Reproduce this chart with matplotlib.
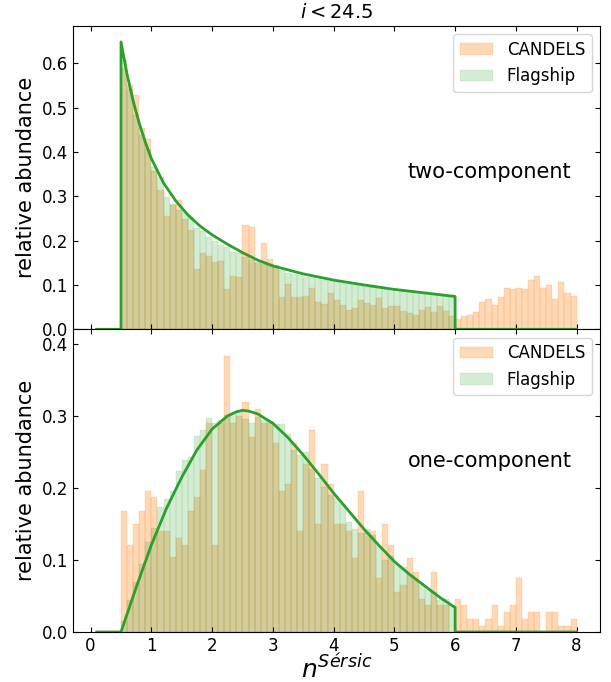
import numpy as np
import matplotlib
matplotlib.use("Agg")
import matplotlib.pyplot as plt

# ---------------- data ----------------
# CANDELS histogram heights, bins of width 0.1 from 0.5 to 8.0
cand_two = [0.590, 0.551, 0.528, 0.454, 0.429, 0.358, 0.314, 0.256, 0.280, 0.292,
            0.248, 0.224, 0.136, 0.172, 0.166, 0.152, 0.155, 0.091, 0.120, 0.117,
            0.235, 0.230, 0.150, 0.194, 0.158, 0.145, 0.072, 0.102, 0.072, 0.072,
            0.075, 0.093, 0.061, 0.057, 0.082, 0.066, 0.054, 0.043, 0.048, 0.066,
            0.060, 0.055, 0.070, 0.048, 0.052, 0.052, 0.041, 0.037, 0.032, 0.043,
            0.050, 0.038, 0.052, 0.041, 0.030, 0.023, 0.030, 0.032, 0.039, 0.061,
            0.068, 0.055, 0.073, 0.093, 0.091, 0.093, 0.091, 0.111, 0.120, 0.093,
            0.100, 0.068, 0.107, 0.082, 0.075]
# Flagship histogram heights, bins of width 0.1 from 0.5 to 6.0
flag_two = [0.607, 0.541, 0.483, 0.438, 0.407, 0.367, 0.344, 0.299, 0.283, 0.270,
            0.265, 0.253, 0.228, 0.222, 0.209, 0.199, 0.189, 0.186, 0.175, 0.172,
            0.164, 0.156, 0.152, 0.147, 0.145, 0.141, 0.134, 0.128, 0.125, 0.123,
            0.119, 0.115, 0.113, 0.111, 0.109, 0.108, 0.105, 0.102, 0.100, 0.098,
            0.096, 0.095, 0.093, 0.092, 0.090, 0.089, 0.087, 0.086, 0.085, 0.083,
            0.082, 0.080, 0.078, 0.077, 0.072]
cand_one = [0.168, 0.121, 0.150, 0.168, 0.196, 0.188, 0.140, 0.140, 0.104, 0.131,
            0.121, 0.168, 0.188, 0.225, 0.290, 0.121, 0.291, 0.384, 0.291, 0.300,
            0.319, 0.271, 0.310, 0.291, 0.290, 0.263, 0.196, 0.206, 0.263, 0.140,
            0.233, 0.281, 0.150, 0.233, 0.206, 0.150, 0.150, 0.140, 0.103, 0.196,
            0.137, 0.140, 0.075, 0.150, 0.121, 0.056, 0.065, 0.103, 0.084, 0.046,
            0.038, 0.084, 0.038, 0.038, 0.000, 0.046, 0.038, 0.018, 0.018, 0.008,
            0.018, 0.038, 0.008, 0.028, 0.038, 0.075, 0.018, 0.028, 0.028, 0.000,
            0.028, 0.028, 0.008, 0.008, 0.018]
flag_one = [0.015, 0.045, 0.070, 0.095, 0.125, 0.144, 0.174, 0.185, 0.196, 0.224,
            0.239, 0.243, 0.272, 0.280, 0.297, 0.290, 0.295, 0.301, 0.304, 0.306,
            0.296, 0.291, 0.299, 0.295, 0.293, 0.289, 0.289, 0.275, 0.253, 0.246,
            0.250, 0.226, 0.214, 0.202, 0.191, 0.186, 0.178, 0.153, 0.143, 0.137,
            0.143, 0.135, 0.119, 0.100, 0.106, 0.095, 0.091, 0.080, 0.072, 0.066,
            0.058, 0.056, 0.044, 0.046, 0.038]

# model curves (Flagship)
curve_two_x = [0.1, 0.5, 0.5, 0.6, 0.7, 0.8, 0.9, 1.0, 1.2, 1.4, 1.6, 1.8, 2.0, 2.25,
               2.5, 2.75, 3.0, 3.5, 4.0, 4.5, 5.0, 5.5, 6.0, 6.0, 8.0]
curve_two_y = [0.0, 0.0, 0.648, 0.575, 0.515, 0.465, 0.422, 0.385, 0.330, 0.290, 0.258,
               0.233, 0.213, 0.192, 0.173, 0.156, 0.143, 0.125, 0.111, 0.100, 0.090,
               0.082, 0.074, 0.0, 0.0]
curve_one_x = [0.1, 0.5, 0.75, 1.0, 1.25, 1.5, 1.75, 2.0, 2.25, 2.4, 2.5, 2.6, 2.75, 3.0,
               3.25, 3.5, 3.75, 4.0, 4.25, 4.5, 4.75, 5.0, 5.25, 5.5, 5.75, 6.0, 6.0, 8.0]
curve_one_y = [0.0, 0.0, 0.062, 0.121, 0.172, 0.215, 0.253, 0.282, 0.300, 0.306, 0.308,
               0.307, 0.303, 0.290, 0.270, 0.246, 0.220, 0.193, 0.168, 0.143, 0.120,
               0.098, 0.080, 0.064, 0.048, 0.034, 0.0, 0.0]

labels = ["CANDELS", "Flagship"]
panel_names = ["two-component", "one-component"]
title = r"$i < 24.5$"
xlabel = r"$n^{Sérsic}$"
ylabel = "relative abundance"
xticks = [0, 1, 2, 3, 4, 5, 6, 7, 8]

# ---------------- plot ----------------
W, H = 611, 682
fig = plt.figure(figsize=(W / 100, H / 100), dpi=100)
left = 73 / W
width = (600 - 73) / W
ax1 = fig.add_axes([left, 1 - 329.3 / H, width, (329.3 - 26) / H])
ax2 = fig.add_axes([left, 1 - 632 / H, width, (632 - 329.3) / H], sharex=ax1)

c_orange = "#ff7f0e"
c_green = "#2ca02c"

def draw(ax, cand, flag, cx, cy, name, ymax, yticks, txt_y):
    ce = np.linspace(0.5, 8.0, len(cand) + 1)
    fe = np.linspace(0.5, 6.0, len(flag) + 1)
    ax.hist(ce[:-1], bins=ce, weights=cand, color=c_orange, alpha=0.3,
            edgecolor=c_orange, linewidth=0.35, label=labels[0])
    ax.hist(fe[:-1], bins=fe, weights=flag, color=c_green, alpha=0.2,
            edgecolor=c_green, linewidth=0.35, label=labels[1])
    ax.plot(cx, cy, color=c_green, lw=2)
    ax.set_ylim(0, ymax)
    ax.set_yticks(yticks)
    ax.set_yticklabels([f"{t:.1f}" for t in yticks])
    ax.tick_params(direction="in", top=True, right=True, labelsize=12)
    ax.set_ylabel(ylabel, fontsize=15)
    ax.legend(loc="upper right", fontsize=12)
    ax.text(6.57, txt_y, name, fontsize=15, ha="center", va="center")

draw(ax1, cand_two, flag_two, curve_two_x, curve_two_y, panel_names[0], 0.684,
     [0.0, 0.1, 0.2, 0.3, 0.4, 0.5, 0.6], 0.355)
draw(ax2, cand_one, flag_one, curve_one_x, curve_one_y, panel_names[1], 0.4206,
     [0.0, 0.1, 0.2, 0.3, 0.4], 0.238)

ax1.set_xlim(-0.29, 8.385)
ax1.set_xticks(xticks)
ax1.tick_params(labelbottom=False)
ax2.set_xticklabels([str(t) for t in xticks])
ax2.set_xlabel(xlabel, fontsize=18, labelpad=0)
ax1.set_title(title, fontsize=14)

fig.savefig("out.png", dpi=100)
